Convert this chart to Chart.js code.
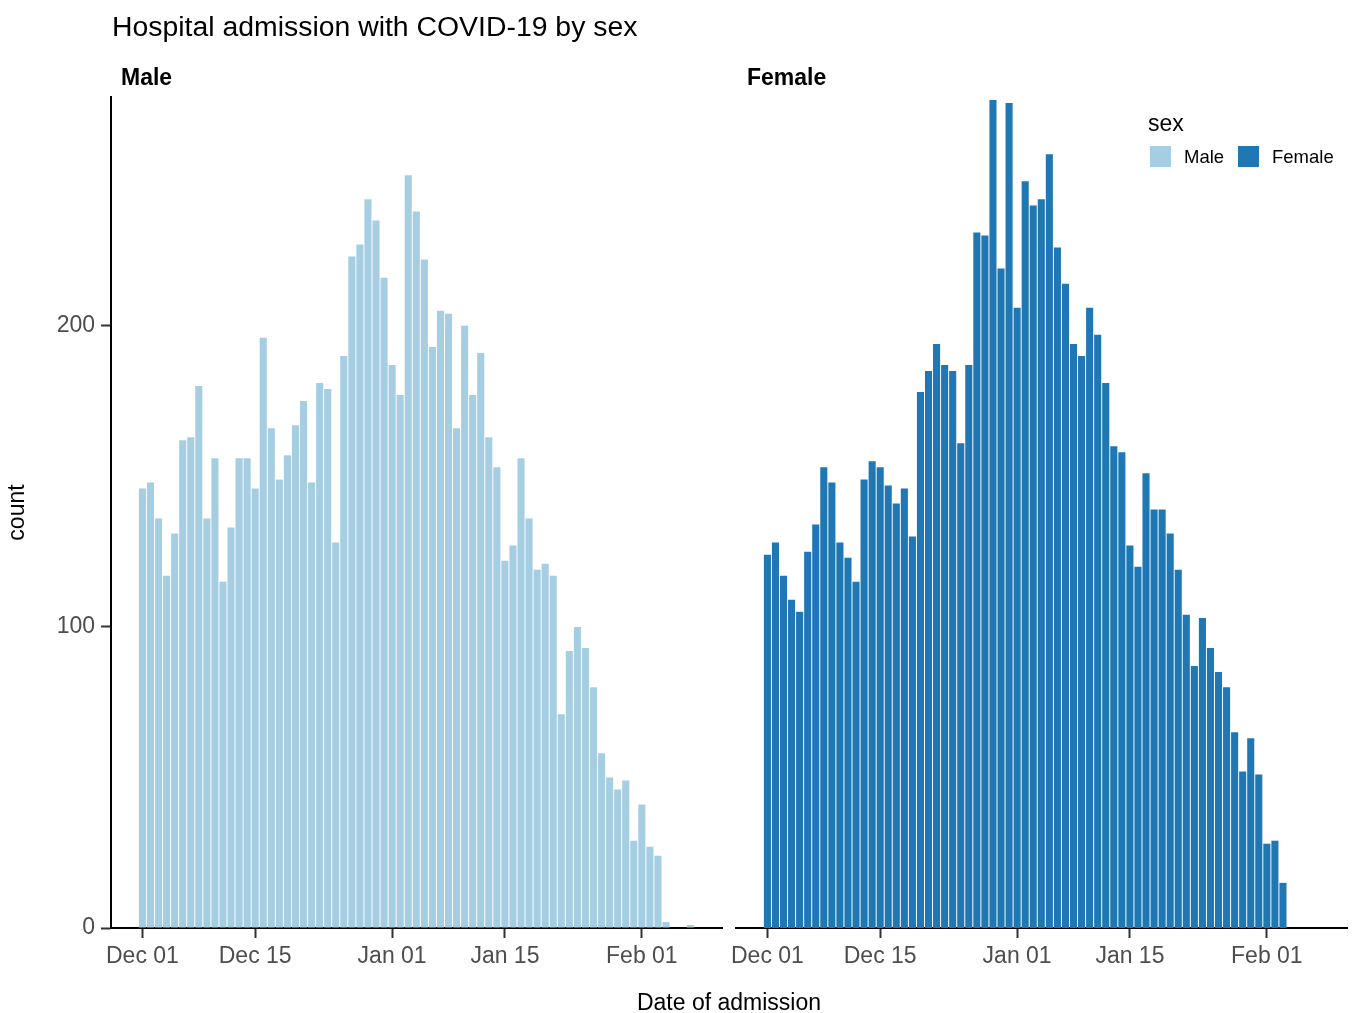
<!DOCTYPE html>
<html>
<head>
<meta charset="utf-8">
<script src="https://cdn.jsdelivr.net/npm/chart.js@4.4.1/dist/chart.umd.min.js"></script>
<style>
  body { margin: 0; background: #fff; font-family: "Liberation Sans", Arial, sans-serif; }
  #wrap { position: relative; width: 1354px; height: 1013px; overflow: hidden; }
  canvas { position: absolute; top: 0; }
  .lbl { position: absolute; line-height: 1; white-space: nowrap; color: #000; transform: translateY(-50%); }
  .sw { position: absolute; width: 21px; height: 21px; }
</style>
</head>
<body>
<div id="wrap">
  <canvas id="male" width="730" height="1013" style="left:0"></canvas>
  <canvas id="female" width="624" height="1013" style="left:730px"></canvas>

  <div class="lbl" style="left:112px; top:26px; font-size:28.4px;">Hospital admission with COVID-19 by sex</div>
  <div class="lbl" style="left:121px; top:77px; font-size:23px; font-weight:bold;">Male</div>
  <div class="lbl" style="left:747px; top:77px; font-size:23px; font-weight:bold;">Female</div>
  <div class="lbl" style="left:729px; top:1002px; font-size:23px; transform:translate(-50%,-50%);">Date of admission</div>

  <div class="lbl" style="left:1148px; top:123px; font-size:23px;">sex</div>
  <div class="sw" style="left:1150px; top:146px; background:#a6cee3;"></div>
  <div class="lbl" style="left:1184px; top:157px; font-size:18.5px;">Male</div>
  <div class="sw" style="left:1238px; top:146px; background:#1f78b4;"></div>
  <div class="lbl" style="left:1272px; top:157px; font-size:18.5px;">Female</div>
</div>

<script>
// daily admissions, index 0 = Dec 01
const maleCounts = [
  146, 148, 136, 117, 131, 162, 163, 180, 136, 156, 115, 133, 156, 156, 146, 196,
  166, 149, 157, 167, 175, 148, 181, 179, 128, 190, 223, 227, 242, 235, 216,
  187, 177, 250, 238, 222, 193, 205, 204, 166, 200, 177, 191, 163, 153, 122, 127,
  156, 136, 119, 121, 117, 71, 92, 100, 93, 80, 58, 50, 46, 49, 29,
  41, 27, 24, 2, 0, 0, 1
];
const femaleCounts = [
  124, 128, 117, 109, 105, 125, 134, 153, 148, 128, 123, 115, 149, 155, 153, 147,
  141, 146, 130, 178, 185, 194, 187, 185, 161, 187, 231, 230, 275, 219, 274,
  206, 248, 240, 242, 257, 226, 214, 194, 190, 206, 197, 181, 160, 158, 127, 120,
  151, 139, 139, 131, 119, 104, 87, 103, 93, 85, 80, 65, 52, 63, 51,
  28, 29, 15
];
const tickDays = [0, 14, 31, 45, 62];
const tickLabels = ['Dec 01', 'Dec 15', 'Jan 01', 'Jan 15', 'Feb 01'];
const yTicks = [0, 100, 200];

const maleColor = '#a6cee3';
const femaleColor = '#1f78b4';

Chart.defaults.font.family = '"Liberation Sans", Arial, sans-serif';
Chart.defaults.animation = false;

function makeChart(id, counts, color, showY, padding) {
  return new Chart(document.getElementById(id), {
    type: 'bar',
    data: {
      datasets: [{
        data: counts.map((v, i) => ({ x: i, y: v })),
        backgroundColor: color,
        barPercentage: 0.88,
        categoryPercentage: 1
      }]
    },
    options: {
      responsive: false,
      devicePixelRatio: 1,
      layout: { padding: padding },
      plugins: { legend: { display: false }, tooltip: { enabled: false } },
      scales: {
        x: {
          type: 'linear',
          min: -3.9,
          max: 71.95,
          offset: false,
          afterBuildTicks: (s) => { s.ticks = tickDays.map(v => ({ value: v })); },
          afterFit: (s) => { s.height = 85; s.paddingLeft = 0; s.paddingRight = 0; },
          grid: { display: true, offset: false, drawOnChartArea: false, tickLength: 10, tickColor: '#333', tickWidth: 2 },
          border: { display: true, color: '#000', width: 2 },
          ticks: {
            autoSkip: false, maxRotation: 0, minRotation: 0, padding: 5,
            color: '#4d4d4d', font: { size: 23 },
            callback: (v, i) => tickLabels[i]
          }
        },
        y: {
          display: showY,
          min: 0,
          max: 276,
          afterBuildTicks: (s) => { s.ticks = yTicks.map(v => ({ value: v })); },
          afterFit: (s) => { s.width = showY ? 111 : 0; },
          grid: { display: true, drawOnChartArea: false, tickLength: 10, tickColor: '#333', tickWidth: 2 },
          border: { display: true, color: '#000', width: 2 },
          ticks: { padding: 6, color: '#4d4d4d', font: { size: 23 } },
          title: { display: true, text: 'count', color: '#000', font: { size: 23 }, padding: { top: 4, bottom: 0 } }
        }
      }
    }
  });
}

makeChart('male', maleCounts, maleColor, true, { left: 0, right: 8, top: 97, bottom: 0 });
makeChart('female', femaleCounts, femaleColor, false, { left: 6, right: 7, top: 97, bottom: 0 });
</script>
</body>
</html>
